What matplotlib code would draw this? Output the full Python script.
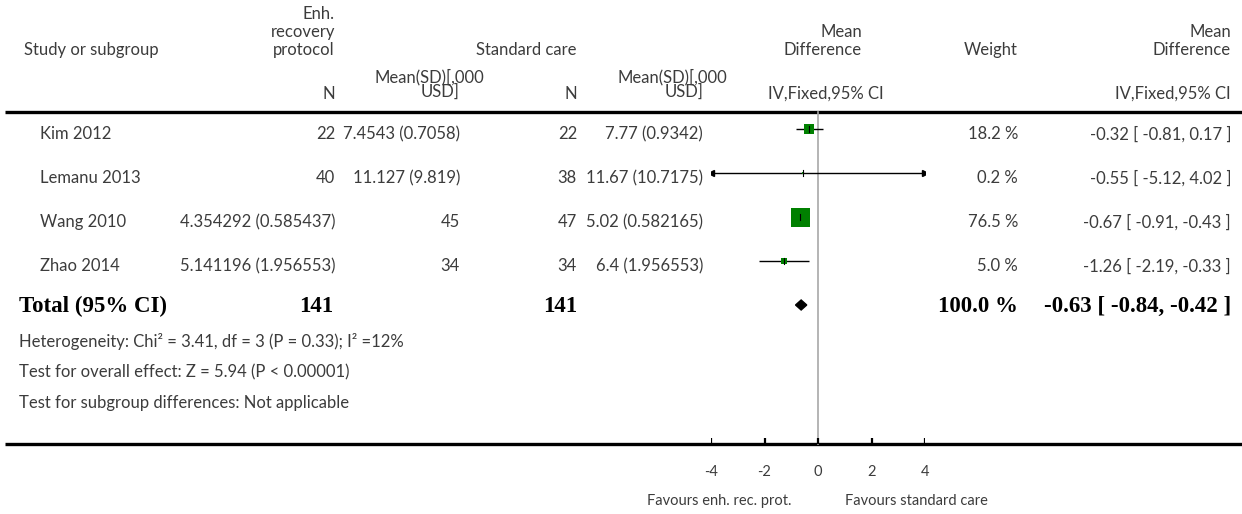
import matplotlib
matplotlib.use('Agg')
import matplotlib.pyplot as plt
from matplotlib.patches import Polygon

# study rows, cells as printed in the table
studies = ['Kim 2012', 'Lemanu 2013', 'Wang 2010', 'Zhao 2014']
erp_col_a = ['22', '40', '4.354292 (0.585437)', '5.141196 (1.956553)']
erp_col_b = ['7.4543 (0.7058)', '11.127 (9.819)', '45', '34']
std_n = ['22', '38', '47', '34']
std_mean = ['7.77 (0.9342)', '11.67 (10.7175)', '5.02 (0.582165)', '6.4 (1.956553)']
md = [-0.32, -0.55, -0.67, -1.26]
ci_lo = [-0.81, -5.12, -0.91, -2.19]
ci_hi = [0.17, 4.02, -0.43, -0.33]
weight = [18.2, 0.2, 76.5, 5.0]
total_n = ['141', '141']
total_md, total_lo, total_hi = -0.63, -0.84, -0.42
total_weight = 100.0
footnotes = ['Heterogeneity: Chi\u00b2 = 3.41, df = 3 (P = 0.33); I\u00b2 =12%',
             'Test for overall effect: Z = 5.94 (P < 0.00001)',
             'Test for subgroup differences: Not applicable']
xticks = [-4, -2, 0, 2, 4]
favours = ['Favours enh. rec. prot.', 'Favours standard care']

W, H = 1242, 514
SANS = ['Lato', 'DejaVu Sans']
SERIF = ['Liberation Serif', 'DejaVu Serif']
FS = 12
FS_SMALL = 10.5
TXT = '#3c3c3c'
GREEN = '#008000'

fig = plt.figure(figsize=(W / 100, H / 100), dpi=100)
ax = fig.add_axes([0, 0, 1, 1])
ax.set_xlim(0, W)
ax.set_ylim(H, 0)
ax.axis('off')

# forest panel: x in mean-difference units, y in the same pixel rows
fx = fig.add_axes([711 / W, 0, (925 - 711) / W, 1])
fx.set_xlim(-4, 4)
fx.set_ylim(H, 0)
fx.axis('off')


def txt(x, y, s, ha='left', size=FS, target=None, **kw):
    (target or ax).text(x, y, s, ha=ha, va='center', fontsize=size, color=TXT,
                        family=SANS, **kw)


def bold(x, y, s, ha='left'):
    ax.text(x, y, s, ha=ha, va='center', fontsize=16.5, color='black',
            family=SERIF, weight='bold')


# column header
txt(24, 50, 'Study or subgroup')
txt(335, 14, 'Enh.', ha='right')
txt(335, 32, 'recovery', ha='right')
txt(335, 50, 'protocol', ha='right')
txt(335, 94, 'N', ha='right')
txt(484, 77, 'Mean(SD)[,000', ha='right')
txt(460, 92, 'USD]', ha='right')
txt(577, 50, 'Standard care', ha='right')
txt(577, 94, 'N', ha='right')
txt(727, 77, 'Mean(SD)[,000', ha='right')
txt(703, 92, 'USD]', ha='right')
txt(862, 32, 'Mean', ha='right')
txt(862, 50, 'Difference', ha='right')
txt(884, 94, 'IV,Fixed,95% CI', ha='right')
txt(1018, 50, 'Weight', ha='right')
txt(1231, 32, 'Mean', ha='right')
txt(1231, 50, 'Difference', ha='right')
txt(1231, 94, 'IV,Fixed,95% CI', ha='right')

ax.plot([5, W], [112, 112], color='black', lw=2.4, solid_capstyle='butt')
ax.plot([5, W], [444, 444], color='black', lw=2.4, solid_capstyle='butt')

# zero line
fx.plot([0, 0], [112, 444], color='#a8a8a8', lw=1.2, zorder=1)

row_y = [129, 173, 217, 261]
for i, name in enumerate(studies):
    y = row_y[i]
    ty = y + 5
    txt(40, ty, name)
    txt(335, ty, erp_col_a[i], ha='right')
    txt(460, ty, erp_col_b[i], ha='right')
    txt(577, ty, std_n[i], ha='right')
    txt(703, ty, std_mean[i], ha='right')
    txt(1018, ty, f'{weight[i]:.1f} %', ha='right')
    txt(1231, ty, f'{md[i]:.2f} [ {ci_lo[i]:.2f}, {ci_hi[i]:.2f} ]', ha='right')

    lo, hi = max(ci_lo[i], -4), min(ci_hi[i], 4)
    fx.plot([lo, hi], [y, y], color='black', lw=1.0, zorder=2,
            solid_capstyle='butt')
    if ci_lo[i] < -4:
        fx.plot(-4, y, marker='<', ms=4, color='black', zorder=2)
    if ci_hi[i] > 4:
        fx.plot(4, y, marker='>', ms=4, color='black', zorder=2)
    side = 19 * (weight[i] / 76.5) ** 0.45
    fx.scatter([md[i]], [y], marker='s', s=(side * 0.72) ** 2, color=GREEN,
               linewidths=0, zorder=3)
    fx.plot([md[i], md[i]], [y - 3, y + 3], color='black', lw=0.8, zorder=4)

# pooled result
ty = 306
bold(19, ty, 'Total (95% CI)')
bold(333, ty, total_n[0], ha='right')
bold(577, ty, total_n[1], ha='right')
bold(1018, ty, f'{total_weight:.1f} %', ha='right')
bold(1231, ty, f'{total_md:.2f} [ {total_lo:.2f}, {total_hi:.2f} ]', ha='right')
dy = 305
fx.add_patch(Polygon([(total_lo, dy), (total_md, dy - 5), (total_hi, dy),
                      (total_md, dy + 5)], closed=True, color='black', zorder=3))

for y, s in zip([342, 372, 403], footnotes):
    txt(19, y, s)

# scale
for v in xticks:
    fx.plot([v, v], [438, 444], color='black', lw=1.6, solid_capstyle='butt')
    txt(v, 472, f'{v}', ha='center', size=FS_SMALL, target=fx)
txt(-1, 501, favours[0], ha='right', size=FS_SMALL, target=fx)
txt(1, 501, favours[1], ha='left', size=FS_SMALL, target=fx)

fig.savefig('out.png', dpi=100)
